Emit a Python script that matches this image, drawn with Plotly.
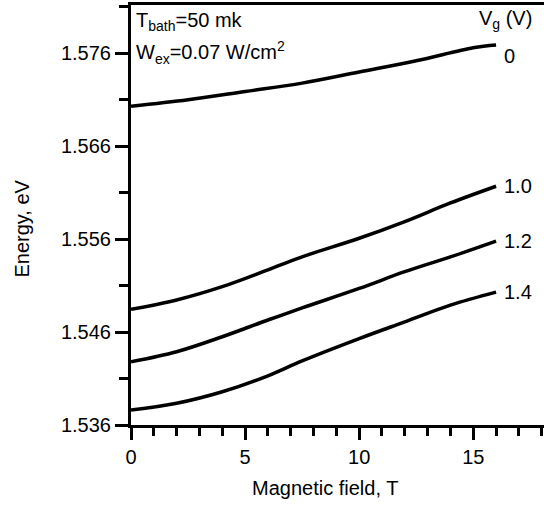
import plotly.graph_objects as go

# Magnetic field (T) sample points and energies (eV) for each gate voltage
field_0 = [0, 2.5, 5, 7.5, 10, 12.5, 15, 16]
energy_0 = [1.5703, 1.5710, 1.5719, 1.5728, 1.5740, 1.5752, 1.5766, 1.5769]

field_b = [0, 2, 4, 6, 7.5, 10, 12, 14, 16]
energy_10 = [1.54845, 1.54946, 1.55089, 1.5527, 1.5541, 1.5561, 1.5579, 1.5599, 1.5617]
energy_12 = [1.54281, 1.54389, 1.54550, 1.5473, 1.5486, 1.5507, 1.5525, 1.5541, 1.5558]
energy_14 = [1.53761, 1.53834, 1.53958, 1.5413, 1.5429, 1.5453, 1.5471, 1.5489, 1.5503]

gate_labels = ["0", "1.0", "1.2", "1.4"]
x_ticks = [0, 5, 10, 15]
y_ticks = [1.536, 1.546, 1.556, 1.566, 1.576]

FONT = "Liberation Sans, Arial, Helvetica, sans-serif"
FS = 20

series = [
    (field_0, energy_0),
    (field_b, energy_10),
    (field_b, energy_12),
    (field_b, energy_14),
]

fig = go.Figure()
for xs, ys in series:
    fig.add_trace(go.Scatter(
        x=xs, y=ys, mode="lines",
        line=dict(color="black", width=3.5, shape="spline", smoothing=1.0),
        showlegend=False, hoverinfo="skip",
    ))

# curve end labels
label_offsets = [-0.0012, 0, 0, 0]
for (xs, ys), lab, off in zip(series, gate_labels, label_offsets):
    fig.add_annotation(
        x=xs[-1] + 0.25, y=ys[-1] + off, text=lab, showarrow=False,
        xanchor="left", yanchor="middle", font=dict(size=FS, color="black", family=FONT),
    )

fig.add_annotation(
    x=1.0, xref="paper", y=1.5797, text="V<sub>g</sub> (V)", showarrow=False,
    xanchor="right", yanchor="middle", xshift=-10,
    font=dict(size=FS, color="black", family=FONT),
)
fig.add_annotation(
    x=0.15, y=1.5794, text="T<sub>bath</sub>=50 mk", showarrow=False,
    xanchor="left", yanchor="middle", font=dict(size=FS, color="black", family=FONT),
)
fig.add_annotation(
    x=0.15, y=1.5761, text="W<sub>ex</sub>=0.07 W/cm<sup>2</sup>", showarrow=False,
    xanchor="left", yanchor="middle", font=dict(size=FS, color="black", family=FONT),
)

# axis titles
fig.add_annotation(
    x=8.5, y=-0.15, yref="paper", text="Magnetic field, T", showarrow=False,
    xanchor="center", yanchor="middle", font=dict(size=FS, color="black", family=FONT),
)
fig.add_annotation(
    x=-0.265, xref="paper", y=0.4667, yref="paper", text="Energy, eV", showarrow=False,
    textangle=-90, xanchor="center", yanchor="middle",
    font=dict(size=FS, color="black", family=FONT),
)

fig.update_layout(
    width=544, height=506,
    margin=dict(l=131, r=0, t=5, b=81, autoexpand=False),
    plot_bgcolor="white", paper_bgcolor="white",
    font=dict(family=FONT, size=FS, color="black"),
    xaxis=dict(
        range=[0, 18.1], tickvals=x_ticks, ticktext=[str(v) for v in x_ticks],
        ticks="outside", ticklen=12, tickwidth=3, tickcolor="black",
        minor=dict(dtick=1, tick0=0, ticks="outside", ticklen=8, tickwidth=3, tickcolor="black", showgrid=False),
        showline=True, linewidth=3, linecolor="black", mirror=True,
        showgrid=False, zeroline=False,
        tickfont=dict(size=FS), automargin=False,
    ),
    yaxis=dict(
        range=[1.536, 1.58121], tickvals=y_ticks, ticktext=[f"{v:.3f}" for v in y_ticks],
        ticks="outside", ticklen=13, tickwidth=3, tickcolor="black",
        minor=dict(dtick=0.005, tick0=1.536, ticks="outside", ticklen=9, tickwidth=3, tickcolor="black", showgrid=False),
        showline=True, linewidth=3, linecolor="black",
        showgrid=False, zeroline=False,
        tickfont=dict(size=FS), automargin=False,
    ),
)

fig.write_html(
    "out.html",
    config={"displayModeBar": False, "staticPlot": True},
    post_script="document.body.style.margin='0';document.body.style.overflow='hidden';",
)
